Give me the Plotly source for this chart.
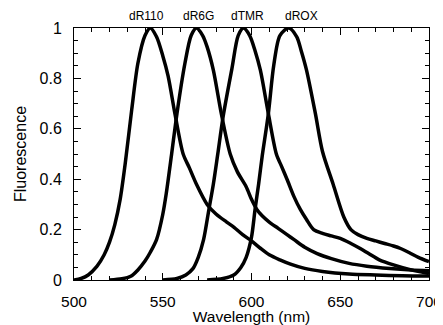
import plotly.graph_objects as go

# ---- data ----
r110_wl = [500, 504, 508, 513, 517, 520, 523, 526, 529, 532.5, 536, 540, 543, 546.5, 550, 553, 557, 561.5,
           565, 569, 575, 580, 586, 590, 595, 600, 605, 610, 616, 622, 630, 640, 655, 670, 685, 700]
r110_val = [0.0, 0.006, 0.02, 0.055, 0.1, 0.15, 0.22, 0.32, 0.47, 0.675, 0.86, 0.97, 1.0, 0.965, 0.89, 0.81,
            0.655, 0.5, 0.445, 0.38, 0.30, 0.262, 0.23, 0.21, 0.18, 0.155, 0.126, 0.1, 0.08, 0.063, 0.046,
            0.034, 0.024, 0.02, 0.017, 0.016]

r6g_wl = [520, 527, 532, 536, 540, 543, 546.5, 550, 552, 555, 558, 562.5, 566, 569, 572.5, 575, 578.5, 583,
          588, 592, 597, 600, 603, 606, 610, 615, 620, 624, 630, 637, 645, 655, 665, 678, 690, 700]
r6g_val = [0.0, 0.005, 0.015, 0.04, 0.075, 0.11, 0.16, 0.26, 0.344, 0.5, 0.66, 0.86, 0.97, 1.0, 0.97, 0.925,
           0.833, 0.66, 0.5, 0.43, 0.37, 0.32, 0.28, 0.255, 0.23, 0.205, 0.18, 0.16, 0.13, 0.105, 0.085,
           0.066, 0.055, 0.046, 0.04, 0.037]

tmr_wl = [550, 558, 563, 567, 570, 573, 576, 578.5, 581, 584, 589, 592.5, 595.5, 599, 602, 605, 609.5, 614,
          617, 620, 624, 627.5, 631, 635, 640, 645, 650, 656, 661, 666, 672, 680, 690, 700]
tmr_val = [0.0, 0.006, 0.02, 0.045, 0.09, 0.16, 0.28, 0.38, 0.5, 0.648, 0.84, 0.97, 1.0, 0.97, 0.91, 0.833,
           0.66, 0.5, 0.45, 0.40, 0.33, 0.28, 0.24, 0.2, 0.185, 0.175, 0.165, 0.145, 0.126, 0.105, 0.08,
           0.06, 0.04, 0.026]

rox_wl = [575, 584, 590, 594, 597, 600, 602, 604, 606, 609.5, 612.5, 616, 621, 625.5, 628, 631, 636, 640,
          646, 652, 656, 660, 665, 670, 675, 680, 684, 689, 694, 700]
rox_val = [0.0, 0.006, 0.02, 0.05, 0.09, 0.17, 0.28, 0.38, 0.49, 0.66, 0.85, 0.97, 1.0, 0.965, 0.91, 0.833,
           0.66, 0.51, 0.38, 0.25, 0.2, 0.18, 0.165, 0.155, 0.145, 0.135, 0.125, 0.108, 0.09, 0.073]

dye_names = ["dR110", "dR6G", "dTMR", "dROX"]
label_wl = [541, 570, 597.5, 628]

x_ticks = [500, 550, 600, 650, 700]
y_ticks = [0, 0.2, 0.4, 0.6, 0.8, 1]
y_tick_text = ["0", "0.2", "0.4", "0.6", "0.8", "1"]

series = [(r110_wl, r110_val), (r6g_wl, r6g_val), (tmr_wl, tmr_val), (rox_wl, rox_val)]

fig = go.Figure()
for name, (wl, val) in zip(dye_names, series):
    fig.add_trace(go.Scatter(x=wl, y=val, mode="lines", name=name,
                             line=dict(color="black", width=3.5, shape="spline", smoothing=0.8),
                             showlegend=False))

for name, xw in zip(dye_names, label_wl):
    fig.add_annotation(x=xw, xref="x", y=1, yref="paper", yanchor="bottom", yshift=3,
                       text=name, showarrow=False,
                       font=dict(family="Liberation Sans, Arial", size=12, color="black"))

font = "Liberation Sans, Arial, sans-serif"
fig.update_layout(
    width=435, height=317,
    margin=dict(l=66, r=14, t=20, b=45, autoexpand=False),
    paper_bgcolor="white", plot_bgcolor="white",
    font=dict(family=font, color="black", size=16),
)
fig.update_xaxes(range=[500, 700], tickvals=x_ticks, ticks="inside", ticklen=7, tickwidth=1,
                 tickcolor="black", showline=True, linecolor="black", linewidth=1, mirror="allticks",
                 showgrid=False, zeroline=False, automargin=False, ticklabelstandoff=7,
                 minor=dict(dtick=10, ticks="inside", ticklen=4, tickcolor="black", showgrid=False),
                 tickfont=dict(size=15.5), title=dict(text="Wavelength (nm)", font=dict(size=15.5), standoff=18))
fig.update_yaxes(range=[0, 1], tickvals=y_ticks, ticktext=y_tick_text, ticks="inside", ticklen=7, tickwidth=1,
                 tickcolor="black", showline=True, linecolor="black", linewidth=1, mirror="allticks",
                 showgrid=False, zeroline=False, automargin=False, ticklabelstandoff=8,
                 minor=dict(dtick=0.05, ticks="inside", ticklen=4, tickcolor="black", showgrid=False),
                 tickfont=dict(size=16), title=dict(text="Fluorescence", font=dict(size=16), standoff=8))

fig.write_html("out.html")
